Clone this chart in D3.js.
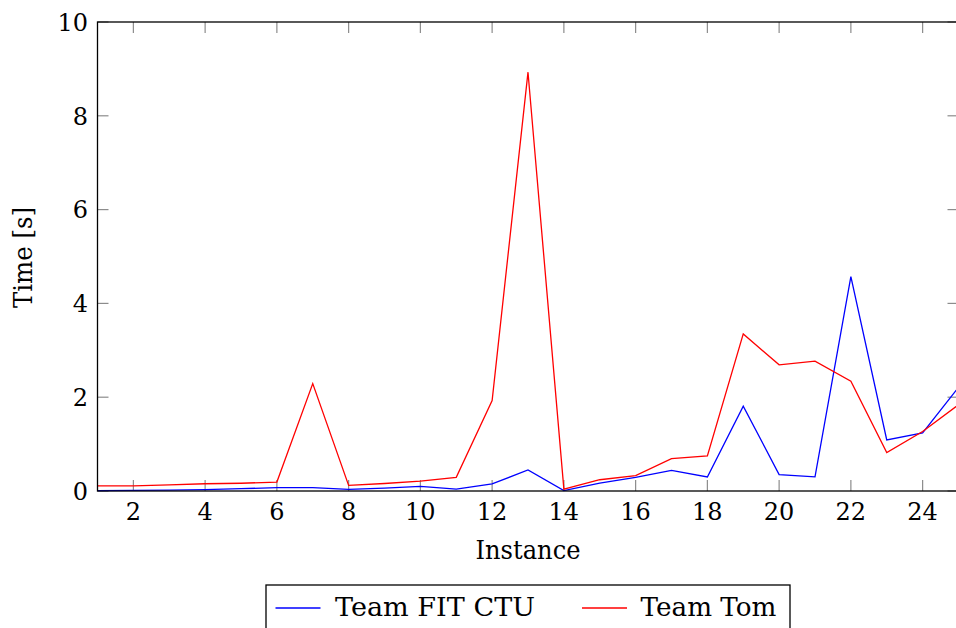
<!DOCTYPE html>
<html>
<head>
    <style>
        body { margin: 0; background: #fff; }
    </style>
    <script src="https://d3js.org/d3.v7.min.js"></script>
</head>
<body>
    <svg width="956" height="628"></svg>

    <script>
        // data
        var instances = [1, 2, 3, 4, 5, 6, 7, 8, 9, 10, 11, 12, 13, 14, 15, 16, 17, 18, 19, 20, 21, 22, 23, 24, 25];
        var fitCtu = [0.01, 0.015, 0.02, 0.03, 0.05, 0.07, 0.07, 0.035, 0.06, 0.1, 0.04, 0.15, 0.45, 0.01, 0.17, 0.29, 0.44, 0.30, 1.81, 0.35, 0.30, 4.57, 1.09, 1.24, 2.21];
        var tom = [0.11, 0.11, 0.13, 0.155, 0.165, 0.19, 2.29, 0.12, 0.16, 0.21, 0.29, 1.93, 8.93, 0.04, 0.24, 0.33, 0.69, 0.75, 3.35, 2.69, 2.77, 2.34, 0.82, 1.27, 1.84];
        var xTicks = [2, 4, 6, 8, 10, 12, 14, 16, 18, 20, 22, 24];
        var yTicks = [0, 2, 4, 6, 8, 10];
        var seriesNames = ["Team FIT CTU", "Team Tom"];
        var seriesColors = ["#0000ff", "#ff0000"];

        // only DejaVu Serif comes out as a serif face here
        var serif = "'DejaVu Serif', serif";

        var svg = d3.select("svg")
            .attr("font-family", serif);

        // plot box (note: "top" is taken by window.top)
        var plotL = 97.5, plotR = 958.5, plotT = 22, plotB = 491;

        var x = d3.scaleLinear().domain([1, 25]).range([plotL, plotR]);
        var y = d3.scaleLinear().domain([0, 10]).range([plotB, plotT]);

        var tickLen = 11;
        var tickColor = "#8c8c8c";

        // ticks, all pointing inward, on every side
        var ticks = svg.append("g").attr("stroke", tickColor).attr("stroke-width", 1.2);
        xTicks.forEach(function(t) {
            ticks.append("line").attr("x1", x(t)).attr("x2", x(t)).attr("y1", plotB).attr("y2", plotB - tickLen);
            ticks.append("line").attr("x1", x(t)).attr("x2", x(t)).attr("y1", plotT).attr("y2", plotT + tickLen);
        });
        yTicks.forEach(function(t) {
            ticks.append("line").attr("x1", plotL).attr("x2", plotL + tickLen).attr("y1", y(t)).attr("y2", y(t));
            ticks.append("line").attr("x1", plotR).attr("x2", plotR - tickLen).attr("y1", y(t)).attr("y2", y(t));
        });

        // series lines
        var series = [fitCtu, tom];
        var line = d3.line()
            .x(function(d, i) { return x(instances[i]); })
            .y(function(d) { return y(d); });

        series.forEach(function(s, i) {
            svg.append("path")
               .datum(s)
               .attr("fill", "none")
               .attr("stroke", seriesColors[i])
               .attr("stroke-width", 1.3)
               .attr("stroke-linejoin", "miter")
               .attr("d", line);
        });

        // frame
        svg.append("rect")
           .attr("x", plotL).attr("y", plotT)
           .attr("width", plotR - plotL).attr("height", plotB - plotT)
           .attr("fill", "none")
           .attr("stroke", "#000")
           .attr("stroke-width", 1.3);

        // tick labels
        svg.append("g").selectAll("text")
           .data(xTicks).enter().append("text")
           .attr("font-size", 24)
           .attr("x", function(d) { return x(d); })
           .attr("y", 520)
           .attr("text-anchor", "middle")
           .text(function(d) { return d; });

        svg.append("g").selectAll("text")
           .data(yTicks).enter().append("text")
           .attr("font-size", 24)
           .attr("x", 88)
           .attr("y", function(d) { return y(d) + 8.8; })
           .attr("text-anchor", "end")
           .text(function(d) { return d; });

        // axis labels
        svg.append("text")
           .attr("font-size", 26)
           .attr("x", 528).attr("y", 559)
           .attr("text-anchor", "middle")
           .attr("textLength", 105)
           .attr("lengthAdjust", "spacingAndGlyphs")
           .text("Instance");

        svg.append("text")
           .attr("font-size", 26)
           .attr("transform", "translate(32,257.5) rotate(-90)")
           .attr("text-anchor", "middle")
           .attr("textLength", 101)
           .attr("lengthAdjust", "spacingAndGlyphs")
           .text("Time [s]");

        // legend
        var legend = svg.append("g");
        legend.append("rect")
              .attr("x", 266).attr("y", 585)
              .attr("width", 524).attr("height", 60)
              .attr("fill", "#fff")
              .attr("stroke", "#000")
              .attr("stroke-width", 1.3);

        var legendLineX = [275.5, 582];
        var legendTextX = [335, 640.5];
        var legendTextW = [200, 136];
        seriesNames.forEach(function(name, i) {
            legend.append("line")
                  .attr("x1", legendLineX[i]).attr("x2", legendLineX[i] + 45)
                  .attr("y1", 608).attr("y2", 608)
                  .attr("stroke", seriesColors[i])
                  .attr("stroke-width", 1.3);
            legend.append("text")
                  .attr("font-size", 26)
                  .attr("x", legendTextX[i]).attr("y", 616)
                  .attr("textLength", legendTextW[i])
                  .attr("lengthAdjust", "spacingAndGlyphs")
                  .text(name);
        });
    </script>
</body>
</html>
